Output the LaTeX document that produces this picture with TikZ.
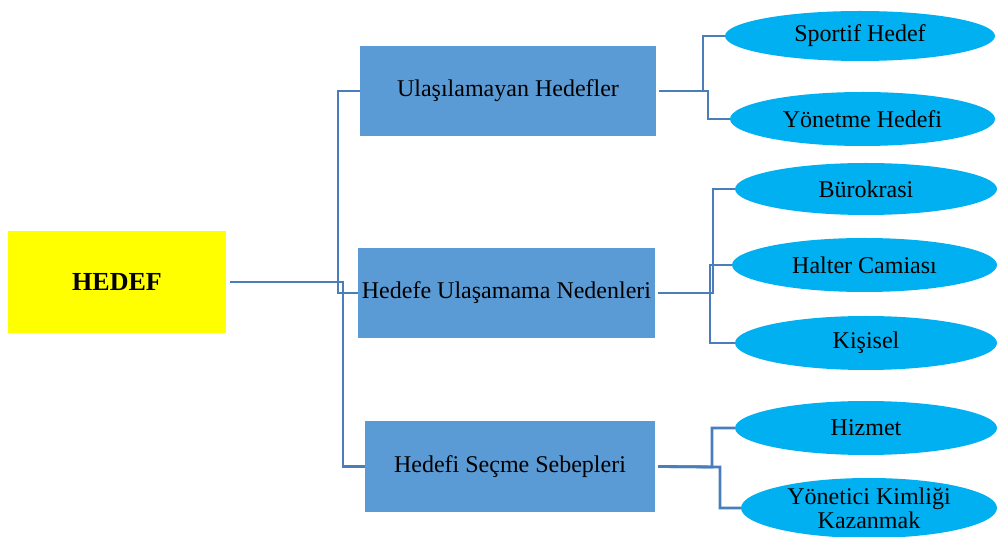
\documentclass[tikz,border=0pt]{standalone}
\usepackage{fontspec}
\setmainfont{Liberation Serif}
\usetikzlibrary{shapes.geometric}
\definecolor{boxblue}{HTML}{5B9BD5}
\definecolor{ellblue}{HTML}{00B0F0}
\definecolor{linkblue}{HTML}{4A7EBB}
\definecolor{hyellow}{HTML}{FFFF00}
\tikzset{
  rootbox/.style={fill=hyellow, draw=none, minimum width=218pt, minimum height=102pt, inner sep=0pt, font=\fontsize{26}{28}\selectfont\bfseries},
  midbox/.style={fill=boxblue, draw=none, minimum height=90pt, inner sep=0pt, font=\fontsize{24}{26}\selectfont},
  leaf/.style={ellipse, fill=ellblue, draw=none, inner sep=0pt, font=\fontsize{24}{24}\selectfont, align=center},
  link/.style={draw=linkblue, line width=2.8pt}
}
\begin{document}
\begin{tikzpicture}[x=1pt,y=-1pt]
\useasboundingbox (0,0) rectangle (997,537);
\node[rootbox] (hedef) at (117,282) {HEDEF};
\node[midbox, minimum width=296pt] (b1) at (508,91) {Ulaşılamayan Hedefler};
\node[midbox, minimum width=297pt] (b2) at (506.5,293) {Hedefe Ulaşamama Nedenleri};
\node[midbox, minimum width=290pt, minimum height=91pt] (b3) at (510,466.5) {Hedefi Seçme Sebepleri};
\node[leaf, minimum width=270pt, minimum height=50pt] (e1) at (860,36) {Sportif Hedef};
\node[leaf, minimum width=265pt, minimum height=54pt] (e2) at (862.5,119) {Yönetme Hedefi};
\node[leaf, minimum width=262pt, minimum height=52pt] (e3) at (866,189) {Bürokrasi};
\node[leaf, minimum width=265pt, minimum height=54pt] (e4) at (864.5,265) {Halter Camiası};
\node[leaf, minimum width=262pt, minimum height=54pt] (e5) at (866,343) {Kişisel};
\node[leaf, minimum width=262pt, minimum height=54pt] (e6) at (866,428) {Hizmet};
\node[leaf, minimum width=256pt, minimum height=60pt] (e7) at (869,508) {Yönetici Kimliği\\Kazanmak};
% left connectors
\draw[link] (hedef.east) ++(4,0) -- (343,282) |- (b3.west);
\draw[link] (b1.west) -- (338,91) |- (b2.west);
% right connectors
\draw[link] (b1.east) ++(3,0) -- (703,91) |- (e1.west);
\draw[link] (b1.east) ++(3,0) -- (708,91) |- (e2.west);
\draw[link] (b2.east) ++(3,0) -- (713,293) |- (e3.west);
\draw[link] (b2.east) ++(3,0) -- (710,293) |- (e4.west);
\draw[link] (710,293) |- (e5.west);
\draw[link] (b3.east) ++(3,0) -- (712,467) |- (e6.west);
\draw[link] (b3.east) ++(3,0) -- (720,467) |- (e7.west);
\end{tikzpicture}
\end{document}
